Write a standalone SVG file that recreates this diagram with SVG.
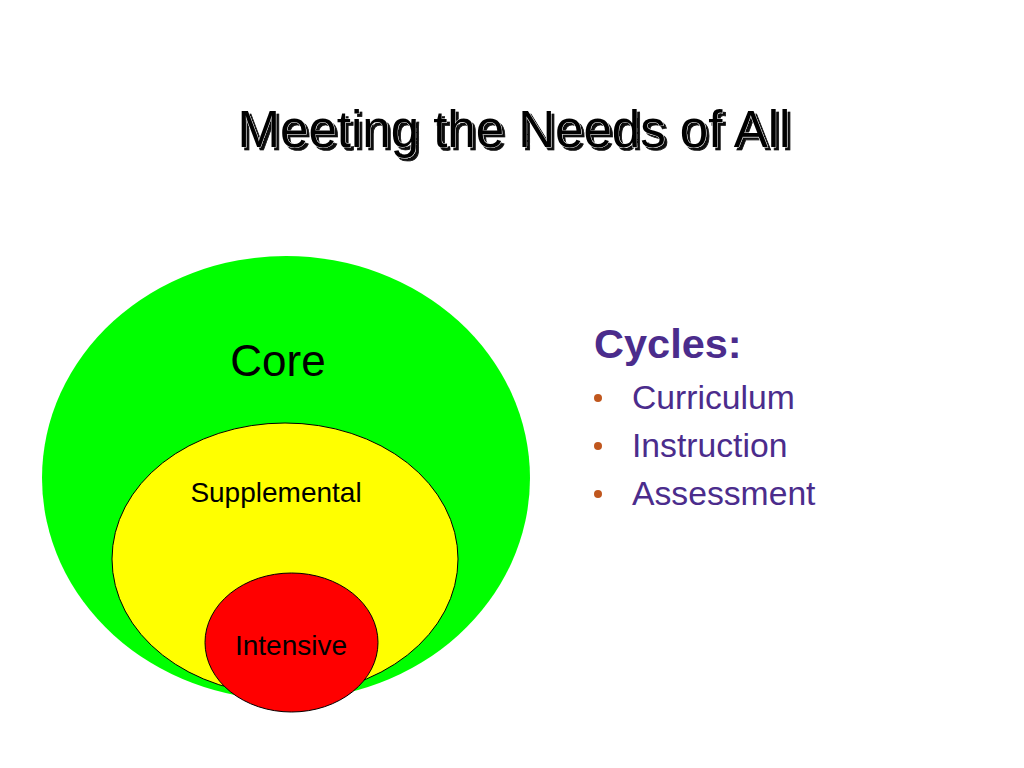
<svg xmlns="http://www.w3.org/2000/svg" width="1024" height="768" viewBox="0 0 1024 768">
<defs>
<filter id="shadow" x="-5%" y="-20%" width="110%" height="140%">
<feOffset in="SourceAlpha" dx="2.5" dy="2.5" result="off"/>
<feFlood flood-color="#111"/>
<feComposite in2="off" operator="in" result="sh"/>
<feMerge><feMergeNode in="sh"/><feMergeNode in="SourceGraphic"/></feMerge>
</filter>
</defs>
<style>
.t{font-family:"Liberation Sans",Arial,sans-serif}
.lbl{font-family:"Liberation Sans",Arial,sans-serif;fill:#000;text-anchor:middle}
.list{font-family:"Liberation Sans",Arial,sans-serif;fill:#4B2C8C;font-size:33.7px}
.bul{fill:#C0571E}
</style>
<rect width="1024" height="768" fill="#fff"/>
<g id="title">
<text class="t" x="514" y="147" font-size="51" text-anchor="middle" fill="#000" stroke="#fff" stroke-width="0.7" paint-order="stroke" filter="url(#shadow)">Meeting the Needs of All</text>
</g>
<g id="core">
<ellipse cx="286" cy="478" rx="244" ry="222" fill="#00FF00"/>
<text class="lbl" x="278" y="376" font-size="44">Core</text>
</g>
<g id="supplemental">
<ellipse cx="285" cy="559" rx="173" ry="136" fill="#FFFF00" stroke="#000" stroke-width="1"/>
<text class="lbl" x="276" y="502" font-size="28">Supplemental</text>
</g>
<g id="intensive">
<ellipse cx="291.5" cy="642.5" rx="86.5" ry="69.5" fill="#FF0000" stroke="#000" stroke-width="1"/>
<text class="lbl" x="291" y="655" font-size="28">Intensive</text>
</g>
<g id="connectors"/>
<g id="cycles">
<text class="t" x="594" y="358" font-size="41.5" font-weight="bold" fill="#4B2C8C">Cycles:</text>
<circle class="bul" cx="598" cy="398" r="4"/>
<text class="list" x="632" y="409">Curriculum</text>
<circle class="bul" cx="598" cy="446" r="4"/>
<text class="list" x="632" y="457">Instruction</text>
<circle class="bul" cx="598" cy="494" r="4"/>
<text class="list" x="632" y="505">Assessment</text>
</g>
</svg>
